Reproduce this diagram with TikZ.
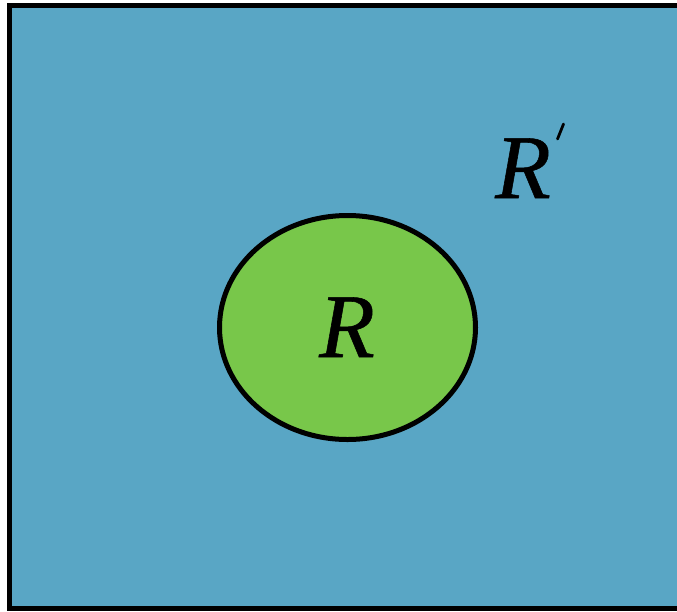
\documentclass[tikz,border=0pt]{standalone}
\usepackage{fontspec}
\setmainfont{Liberation Serif}
\newfontface\lblface[FakeBold=0.6]{Liberation Serif Italic}
\usetikzlibrary{shapes.geometric}
\definecolor{bgblue}{RGB}{89,166,197}
\definecolor{regiongreen}{RGB}{120,199,74}
\tikzset{
  lbl/.style={font=\lblface\fontsize{91}{91}\selectfont, inner sep=0pt, anchor=base},
}
\begin{document}
\begin{tikzpicture}[x=1pt,y=-1pt]
\useasboundingbox (0,0) rectangle (677,611);
\fill[white] (0,0) rectangle (677,611);
\begin{scope}
\clip (0,0) rectangle (677,611);
\draw[line width=5pt, fill=bgblue] (9.5,5.5) rectangle (690,608.5);
\end{scope}
\node[draw, line width=5pt, fill=regiongreen, ellipse, minimum width=256pt, minimum height=224pt, inner sep=0pt] (region) at (347.5,327.5) {};
\node[lbl] (rlabel) at (347,357) {R};
\node[lbl] (rprime) at (523,198) {R};
\draw[line width=2.8pt, line cap=round] (557.5,139) coordinate (p1) -- (563.5,124) coordinate (p2);
\end{tikzpicture}
\end{document}
